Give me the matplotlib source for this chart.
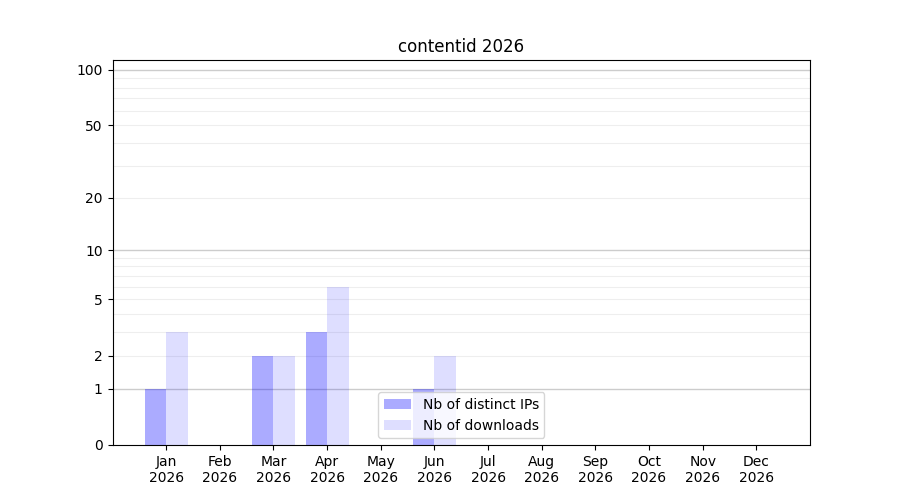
import matplotlib
import numpy as np

matplotlib.use("Agg")
import matplotlib.pyplot as plt  # noqa: E402

# monthly stats for 2026
months = ["Jan", "Feb", "Mar", "Apr", "May", "Jun", "Jul", "Aug", "Sep", "Oct", "Nov", "Dec"]
year = "2026"
distinct_ips = [1, 0, 2, 3, 0, 1, 0, 0, 0, 0, 0, 0]
downloads = [3, 0, 2, 6, 0, 2, 0, 0, 0, 0, 0, 0]
ytick_values = [0, 1, 2, 5, 10, 20, 50, 100]


def fwd(v):
    return np.log10(np.clip(1.0 + np.asarray(v, float), 1e-12, None))


def inv(v):
    return 10.0 ** np.asarray(v, float) - 1.0


fig, ax = plt.subplots(figsize=(9, 5), dpi=100)
ax.set_yscale("function", functions=(fwd, inv))

x = np.arange(len(months))
w = 0.4
ax.bar(x - w / 2, distinct_ips, width=w, color="blue", alpha=0.33, label="Nb of distinct IPs")
ax.bar(x + w / 2, downloads, width=w, color="blue", alpha=0.13, label="Nb of downloads")

# decade lines darker, in-between lines faint
for d in (1, 10, 100):
    ax.axhline(d, color="#cccccc", lw=1, zorder=0.5)
for d in (1, 10):
    for m in range(2, 10):
        ax.axhline(d * m, color="#eeeeee", lw=0.8, zorder=0.4)

ax.set_ylim(0, 113)
ax.set_xlim(-1, len(months))
ax.set_yticks(ytick_values)
ax.set_yticklabels([str(v) for v in ytick_values])
ax.yaxis.set_minor_locator(matplotlib.ticker.NullLocator())
ax.set_xticks(x)
ax.set_xticklabels([f"{m}\n{year}" for m in months])
ax.set_title("contentid 2026")
ax.legend(loc="lower center")

fig.savefig("out.png", dpi=100)
